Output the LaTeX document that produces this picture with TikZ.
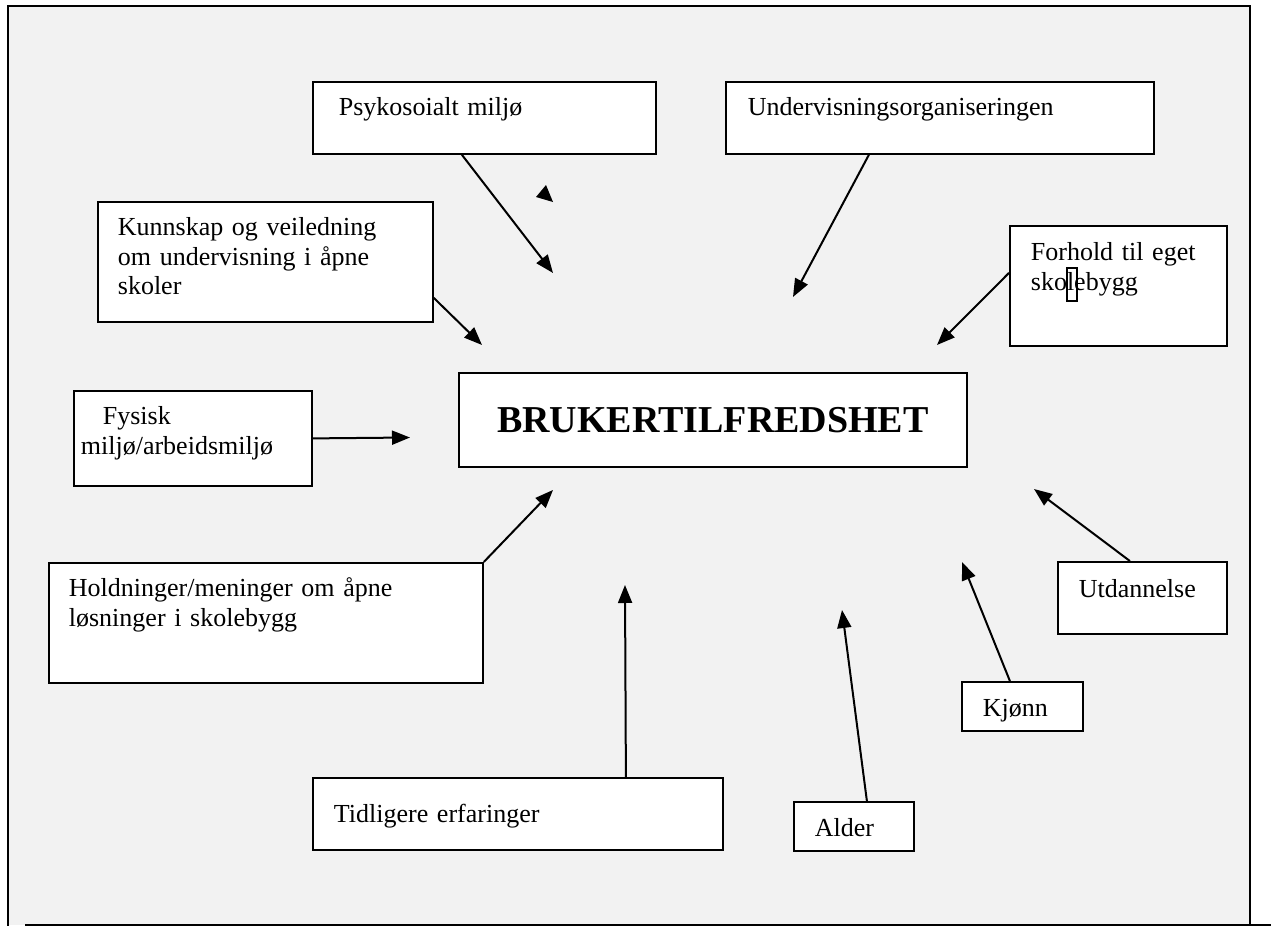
\documentclass[tikz,border=0pt]{standalone}
\usepackage{fontspec}
\setmainfont{Liberation Serif}
\usetikzlibrary{arrows.meta}

\definecolor{bakgrunn}{HTML}{F2F2F2}

\begin{document}
\begin{tikzpicture}[x=0.5pt, y=-0.5pt,
		faktor/.style={draw, fill=white, line width=0.9pt, anchor=north west, align=left, inner ysep=0pt, text height=17pt, font=\fontsize{13}{14.75}\selectfont},
		pil/.style={line width=1pt, -{Triangle[length=9pt, width=7pt]}}]
			\useasboundingbox (0,0) rectangle (1271,926);
			\fill[bakgrunn] (8,6) rectangle (1250,925);
			\draw[line width=1.3pt] (8,926) -- (8,6) -- (1250,6) -- (1250,925);
			\draw[line width=1.3pt] (25,925) -- (1271,925);

			\node[faktor, inner xsep=13pt, text width=145.5pt, text depth=19pt] (psyk) at (312,81) {Psykosoialt miljø};
			\node[faktor, inner xsep=11pt, text width=192pt, text depth=19pt] (underv) at (725,81) {Undervisningsorganiseringen};
			\node[faktor, inner xsep=10pt, text width=147.5pt, text depth=43pt] (kunnskap) at (97,201) {Kunnskap og veiledning\\om undervisning i åpne\\skoler};
			\node[faktor, inner xsep=10.5pt, text width=87.5pt, text height=17.5pt, text depth=42.5pt] (forhold) at (1009,225) {Forhold til eget\\skolebygg};
			\node[draw, fill=white, line width=0.9pt, anchor=north west, minimum width=254pt, minimum height=47pt, font=\fontsize{19}{22}\selectfont\bfseries] (sentral) at (458,372) {BRUKERTILFREDSHET};
			\node[faktor, inner xsep=3.5pt, text width=112pt, text depth=30.5pt] (fysisk) at (73,390) {\hspace*{11pt}Fysisk\\miljø/arbeidsmiljø};
			\node[faktor, inner xsep=10pt, text width=197pt, text depth=43pt] (holdn) at (48,562) {Holdninger/meninger om åpne\\løsninger i skolebygg};
			\node[faktor, inner xsep=10.5pt, text width=184pt, text height=22.5pt, text depth=13.5pt] (tidl) at (312,777) {Tidligere erfaringer};
			\node[faktor, inner xsep=10.5pt, text width=39pt, text height=17.5pt, text depth=7pt] (alder) at (793,801) {Alder};
			\node[faktor, inner xsep=10.5pt, text width=39.5pt, text height=17.5pt, text depth=7pt] (kjonn) at (961,681) {Kjønn};
			\node[faktor, inner xsep=10.5pt, text width=63.5pt, text height=18pt, text depth=18pt] (utd) at (1057,561) {Utdannelse};

			\coordinate (psyk-spiss) at (553,273);
			\coordinate (underv-spiss) at (793,297);
			\coordinate (kunnskap-spiss) at (482,345);
			\coordinate (forhold-spiss) at (937,345);
			\coordinate (fysisk-spiss) at (410,437.5);
			\coordinate (holdn-spiss) at (553,490);
			\coordinate (tidl-spiss) at (625,585);
			\coordinate (alder-spiss) at (842,610);
			\coordinate (kjonn-spiss) at (962,562);
			\coordinate (utd-spiss) at (1034,489);

			\draw[pil] ([xshift=-11.25pt]psyk.south) -- (psyk-spiss);
			\draw[pil] ([xshift=-35.5pt]underv.south) -- (underv-spiss);
			\draw[pil] ([yshift=-18pt]kunnskap.east) -- (kunnskap-spiss);
			\draw[pil] ([yshift=6.5pt]forhold.west) -- (forhold-spiss);
			\draw[pil] (fysisk.east) -- (fysisk-spiss);
			\draw[pil] (holdn.north east) -- (holdn-spiss);
			\draw[pil] ([xshift=54pt]tidl.north) -- (tidl-spiss);
			\draw[pil] ([xshift=6.5pt]alder.north) -- (alder-spiss);
			\draw[pil] ([xshift=-6.25pt]kjonn.north) -- (kjonn-spiss);
			\draw[pil] ([xshift=-6.25pt]utd.north) -- (utd-spiss);

			\fill (546,185) -- (536,197) -- (553,202) -- cycle;
			\draw[line width=0.6pt] (1067,268) rectangle (1077,301);
		\end{tikzpicture}
\end{document}
